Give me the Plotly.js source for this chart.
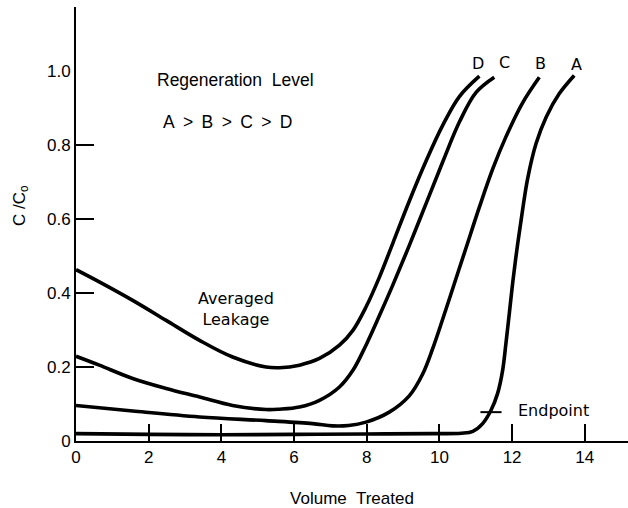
<!DOCTYPE html>
<html>
<head>
<meta charset="utf-8">
<script src="https://cdn.plot.ly/plotly-3.0.1.min.js"></script>
<style>html,body{margin:0;padding:0;background:#fff;}#chart{width:628px;height:508px;}</style>
</head>
<body>
<div id="chart"></div>
<script>
// Breakthrough curves, C/Co vs volume treated
const curveA_x = [0, 2, 4, 6, 8, 9.8, 10.6, 10.92, 11.19, 11.42, 11.6, 11.74, 11.83, 11.93, 12.02, 12.15, 12.29, 12.43, 12.66, 12.94, 13.3, 13.71];
const curveA_y = [0.02, 0.018, 0.017, 0.018, 0.019, 0.02, 0.021, 0.026, 0.047, 0.083, 0.128, 0.191, 0.263, 0.35, 0.43, 0.53, 0.625, 0.71, 0.804, 0.876, 0.939, 0.988];

const curveB_x = [0, 1.56, 3.4, 5.23, 6.51, 7.06, 7.5, 7.98, 8.62, 9.17, 9.54, 9.82, 10.09, 10.41, 10.73, 11.1, 11.47, 11.83, 12.29, 12.75];
const curveB_y = [0.096, 0.081, 0.065, 0.055, 0.047, 0.041, 0.042, 0.051, 0.078, 0.122, 0.181, 0.251, 0.329, 0.425, 0.521, 0.632, 0.736, 0.822, 0.914, 0.983];

const curveC_x = [0, 0.64, 1.56, 2.48, 3.4, 4.31, 5.23, 5.6, 6.15, 6.7, 7.25, 7.62, 7.98, 8.35, 8.72, 9.17, 9.63, 10.09, 10.55, 11.01, 11.51];
const curveC_y = [0.229, 0.205, 0.169, 0.142, 0.119, 0.096, 0.085, 0.086, 0.092, 0.11, 0.146, 0.191, 0.259, 0.339, 0.422, 0.528, 0.641, 0.754, 0.862, 0.942, 0.983];

const curveD_x = [0, 0.64, 1.56, 2.48, 3.4, 4.31, 5.23, 5.6, 6.15, 6.7, 7.25, 7.62, 7.98, 8.35, 8.72, 9.17, 9.63, 10.09, 10.55, 11.1];
const curveD_y = [0.463, 0.43, 0.38, 0.326, 0.272, 0.227, 0.2, 0.198, 0.205, 0.223, 0.259, 0.299, 0.362, 0.443, 0.535, 0.648, 0.756, 0.853, 0.931, 0.986];

const endpoint_x = [11.13, 11.71];
const endpoint_y = [0.078, 0.078];

const curveNames = ['A', 'B', 'C', 'D'];
const curveLabelX = [13.76, 12.77, 11.79, 11.05];
const curveLabelY = [1.018, 1.02, 1.024, 1.02];

const xTickVals = [0, 2, 4, 6, 8, 10, 12, 14];
const xTickText = ['0', '2', '4', '6', '8', '10', '12', '14'];
const yTickVals = [0, 0.2, 0.4, 0.6, 0.8, 1.0];
const yTickText = ['0', '0.2', '0.4', '0.6', '0.8', '1.0'];
const yTickMarks = [0.2, 0.4, 0.6, 0.8];

const xRange = [0, 15.19];
const yRange = [0, 1.173];

const lineStyle = {color: '#000', width: 3.6, shape: 'spline', smoothing: 1};
function curve(x, y, name) {
  return {x: x, y: y, name: name, type: 'scatter', mode: 'lines', line: lineStyle, cliponaxis: false, hoverinfo: 'skip'};
}

const traces = [
  curve(curveA_x, curveA_y, 'A'),
  curve(curveB_x, curveB_y, 'B'),
  curve(curveC_x, curveC_y, 'C'),
  curve(curveD_x, curveD_y, 'D'),
  {x: endpoint_x, y: endpoint_y, yaxis: 'y2', type: 'scatter', mode: 'lines', line: {color: '#000', width: 2}, name: 'Endpoint', hoverinfo: 'skip', cliponaxis: false}
];

const tickFont = {family: '"Liberation Sans Narrow", "Liberation Sans", Arial, sans-serif', size: 17, color: '#000'};
const textFont = {family: '"Liberation Sans", Arial, sans-serif', size: 17, color: '#000'};
const labelFont = {family: '"DejaVu Sans", sans-serif', size: 16, color: '#000'};

const gap = '\u00a0\u2009';
const annotations = curveNames.map((n, i) => ({
  x: curveLabelX[i], y: curveLabelY[i], xref: 'x', yref: 'y', text: n, showarrow: false,
  xanchor: 'center', yanchor: 'middle', font: labelFont
}));
annotations.push(
  {x: 4.4, y: 0.975, xref: 'x', yref: 'y', text: 'Regeneration\u00a0 Level', showarrow: false, xanchor: 'center', yanchor: 'middle', font: {family: textFont.family, size: 17.5, color: '#000'}},
  {x: 4.17, y: 0.861, xref: 'x', yref: 'y', text: ['A', 'B', 'C', 'D'].join(gap + '&gt;' + gap), showarrow: false, xanchor: 'center', yanchor: 'middle', font: {family: textFont.family, size: 17.5, color: '#000'}},
  {x: 4.41, y: 0.357, xref: 'x', yref: 'y', text: 'Averaged<br>Leakage', showarrow: false, xanchor: 'center', yanchor: 'middle', font: labelFont},
  {x: 12.12, y: 0.083, xref: 'x', yref: 'y', text: 'Endpoint', showarrow: false, xanchor: 'left', yanchor: 'middle', font: labelFont},
  {x: -0.1, y: 0.5435, xref: 'paper', yref: 'paper', text: 'C /C<sub>o</sub>', showarrow: false, textangle: -90, xanchor: 'center', yanchor: 'middle', font: textFont}
);

const layout = {
  width: 628, height: 508,
  margin: {l: 76, r: 0, t: 7, b: 67},
  paper_bgcolor: '#fff', plot_bgcolor: '#fff',
  showlegend: false,
  xaxis: {
    range: xRange, tickvals: xTickVals, ticktext: xTickText,
    ticks: 'inside', ticklen: 17, tickwidth: 2, tickcolor: '#000',
    showline: true, linewidth: 2, linecolor: '#000',
    showgrid: false, zeroline: false, tickfont: tickFont,
    title: {text: 'Volume\u00a0 Treated', font: textFont, standoff: 26}
  },
  yaxis: {
    range: yRange, tickvals: yTickVals, ticktext: yTickText,
    ticks: '', showline: true, linewidth: 2, linecolor: '#000',
    showgrid: false, zeroline: false, tickfont: tickFont
  },
  yaxis2: {
    range: yRange, overlaying: 'y', matches: 'y', side: 'left', anchor: 'x',
    tickvals: yTickMarks, ticks: 'inside', ticklen: 18, tickwidth: 2, tickcolor: '#000',
    showticklabels: false, showgrid: false, zeroline: false, showline: false
  },
  annotations: annotations
};

Plotly.newPlot('chart', traces, layout, {staticPlot: true, displayModeBar: false});
</script>
</body>
</html>
